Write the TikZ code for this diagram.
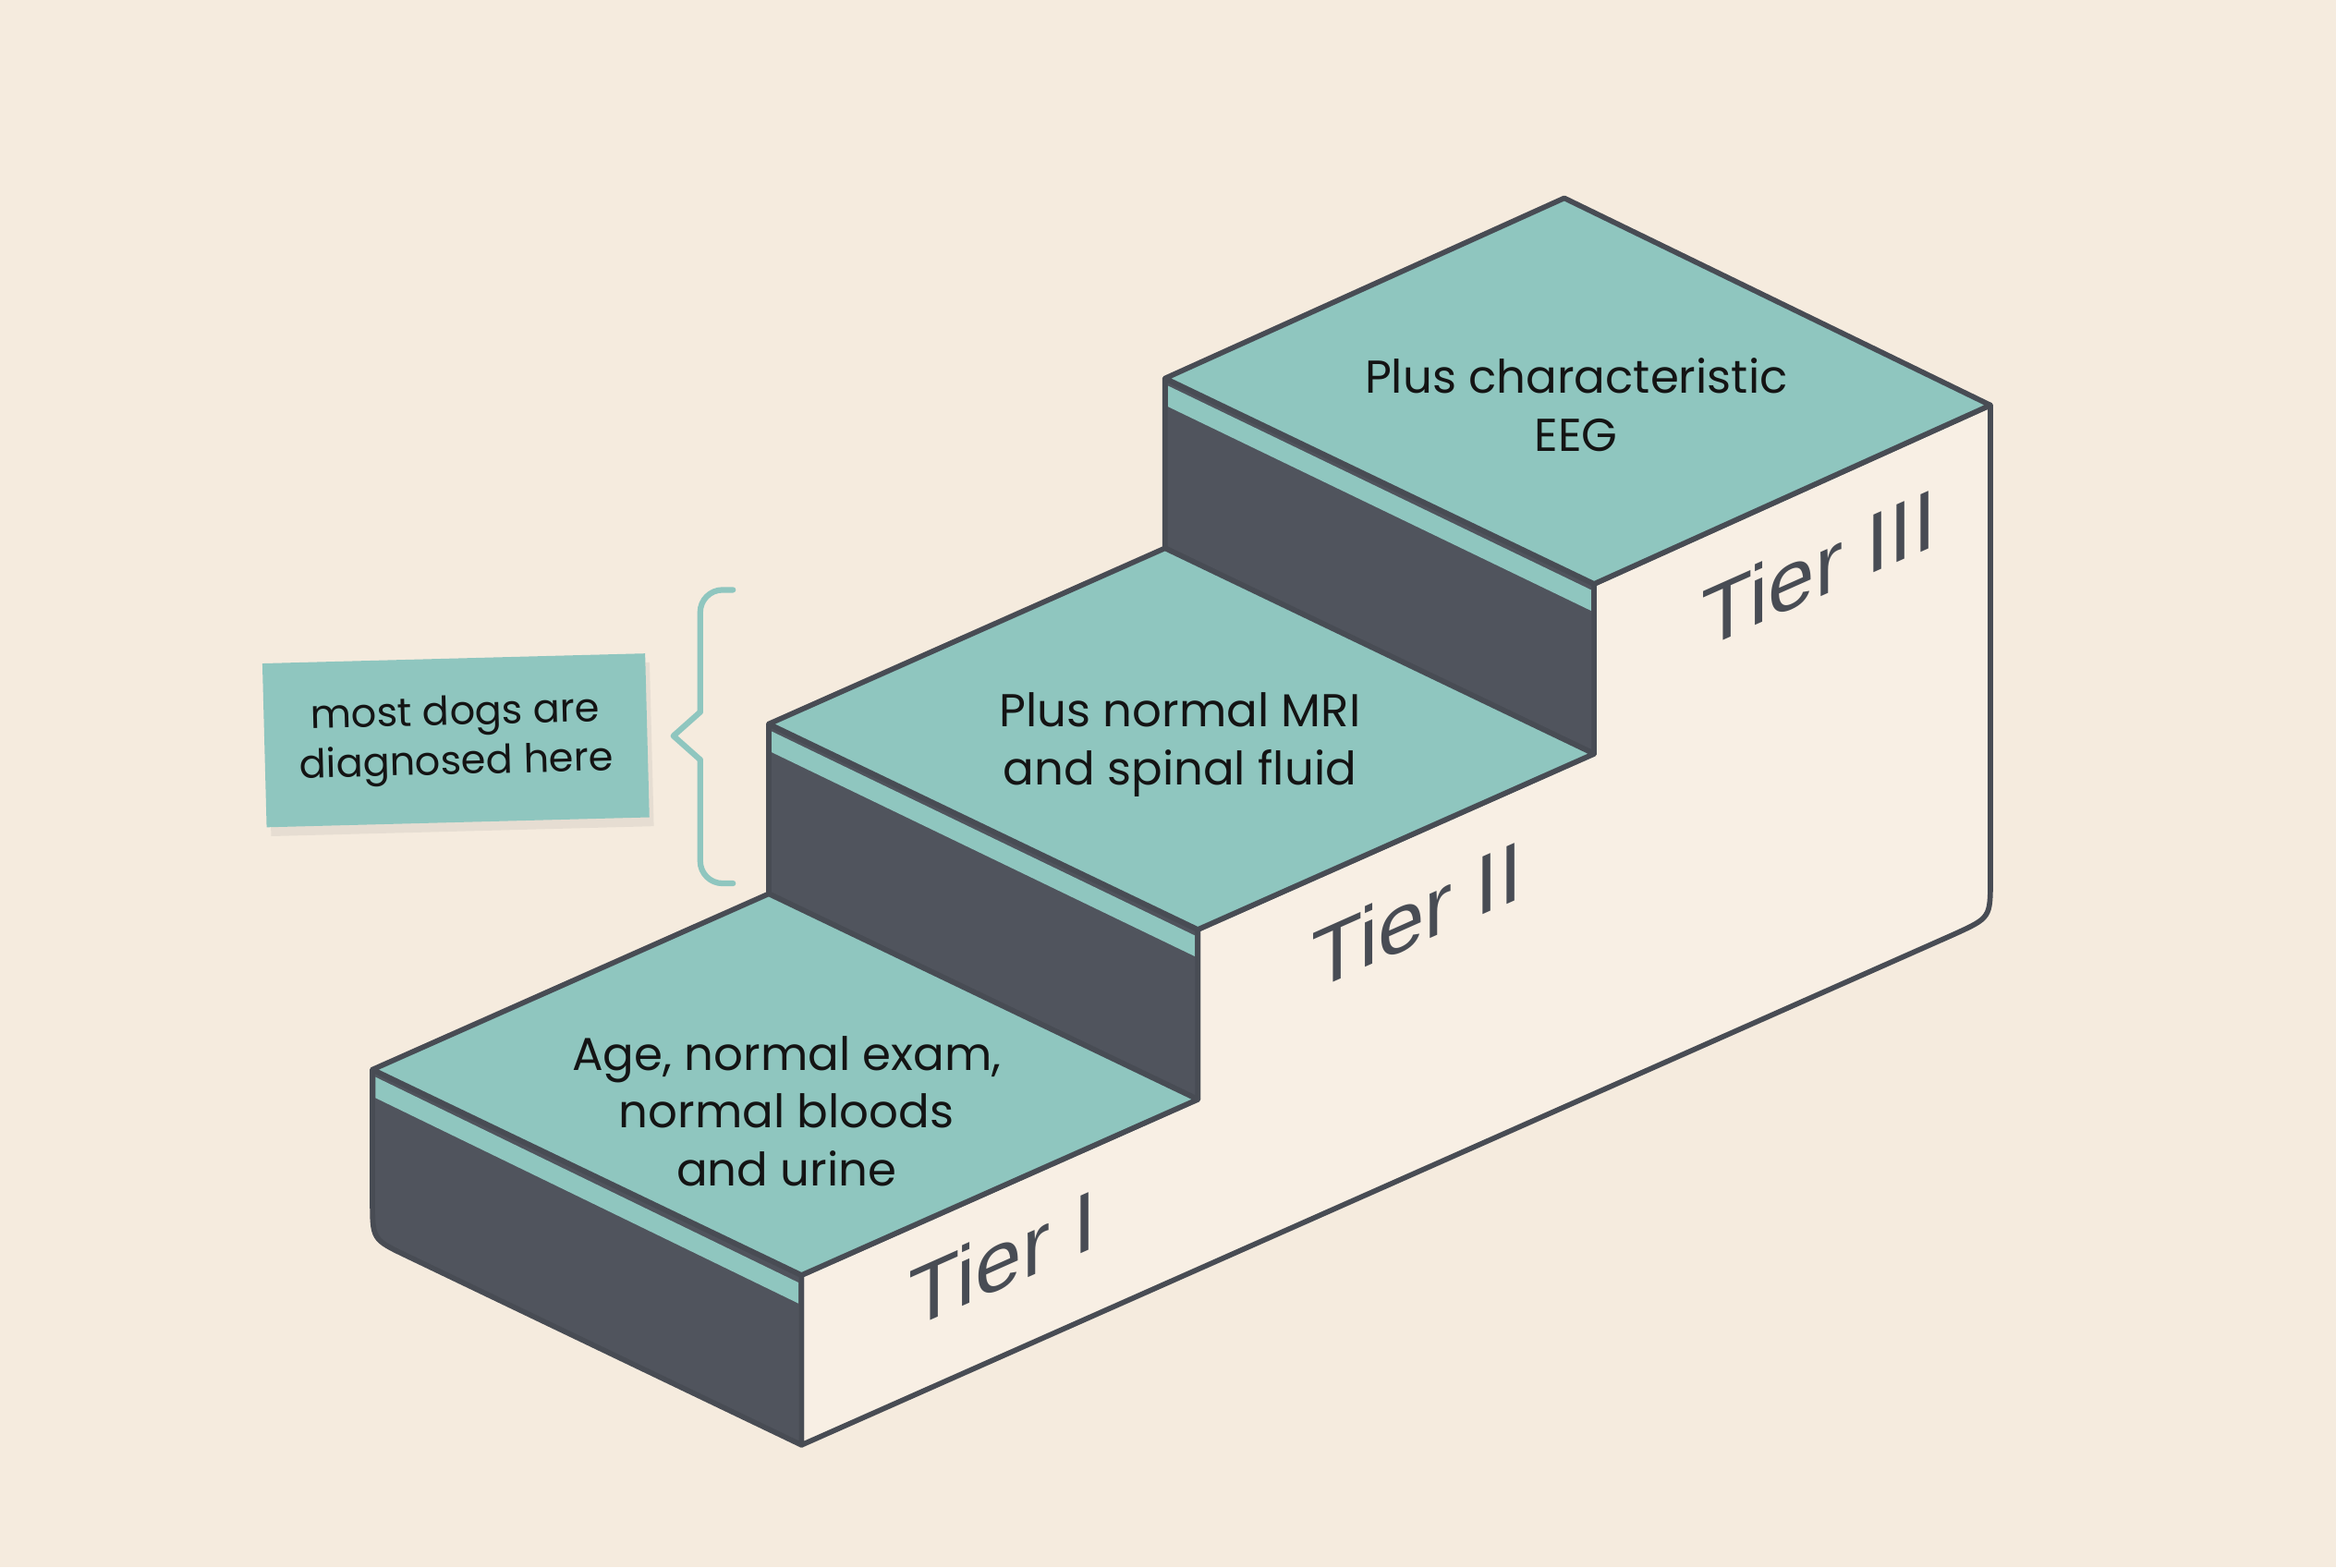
\documentclass[tikz,border=0pt]{standalone}
\usepackage{fontspec}
\setmainfont{Poppins}
\newfontfamily\tierfont{Liberation Sans}
\usepackage{xcolor}
\usepackage{tikz}
\usetikzlibrary{backgrounds,shadows,calc}
\pgfdeclarelayer{edgelayer}
\pgfdeclarelayer{nodelayer}
\pgfsetlayers{background,edgelayer,nodelayer,main}
\definecolor{paper}{RGB}{245,235,222}
\definecolor{facecream}{RGB}{248,239,228}
\definecolor{riser}{RGB}{80,84,93}
\definecolor{edgegrey}{RGB}{72,76,84}
\definecolor{tread}{RGB}{143,198,191}
\tikzstyle{none}=[inner sep=0mm]
\tikzstyle{step text}=[inner sep=0mm, align=center, text=black!92, font={\fontsize{8.8}{11.1}\selectfont}]
\tikzstyle{tier}=[inner sep=0mm, yslant=0.445, text=edgegrey, font={\tierfont\fontsize{16}{16}\selectfont}]
\tikzstyle{note}=[fill=tread, inner sep=0mm, minimum width=2.57cm, minimum height=1.10cm, align=center, text=black!92, font={\fontsize{7.6}{9.4}\selectfont}, drop shadow={opacity=0.12, shadow xshift=0.3mm, shadow yshift=-0.6mm}]
\tikzstyle{tread face}=[fill=tread, draw=edgegrey, line width=1pt, line join=round]
\tikzstyle{riser face}=[fill=riser, draw=edgegrey, line width=1pt, line join=round]
\tikzstyle{side face}=[fill=facecream, draw=edgegrey, line width=1pt, line join=round]
\tikzstyle{band}=[fill=tread]
\tikzstyle{brace}=[draw=tread, line width=1.1pt, line cap=round, line join=round]

\begin{document}
\begin{tikzpicture}
	\begin{pgfonlayer}{background}
		\fill [paper] (0, 0) rectangle (15.68, -10.52);
	\end{pgfonlayer}
	\useasboundingbox (0, 0) rectangle (15.68, -10.52);
	\begin{pgfonlayer}{nodelayer}
		\node [style=none] (0) at (2.50, -7.18) {};
		\node [style=none] (1) at (5.16, -6.00) {};
		\node [style=none] (2) at (5.38, -8.56) {};
		\node [style=none] (3) at (8.04, -7.38) {};
		\node [style=none] (4) at (5.16, -4.86) {};
		\node [style=none] (5) at (7.82, -3.68) {};
		\node [style=none] (6) at (8.04, -6.24) {};
		\node [style=none] (7) at (10.70, -5.06) {};
		\node [style=none] (8) at (7.82, -2.54) {};
		\node [style=none] (9) at (10.50, -1.33) {};
		\node [style=none] (10) at (10.70, -3.92) {};
		\node [style=none] (11) at (13.36, -2.72) {};
		\node [style=none] (12) at (2.50, -8.32) {};
		\node [style=none] (13) at (5.38, -9.70) {};
		\node [style=none] (14) at (13.36, -6.16) {};
		\node [style=none] (15) at (2.52, -7.23) {};
		\node [style=none] (16) at (5.36, -8.61) {};
		\node [style=none] (17) at (5.36, -8.75) {};
		\node [style=none] (18) at (2.52, -7.37) {};
		\node [style=none] (19) at (5.18, -4.91) {};
		\node [style=none] (20) at (8.02, -6.28) {};
		\node [style=none] (21) at (8.02, -6.42) {};
		\node [style=none] (22) at (5.18, -5.05) {};
		\node [style=none] (23) at (7.84, -2.59) {};
		\node [style=none] (24) at (10.68, -3.96) {};
		\node [style=none] (25) at (10.68, -4.10) {};
		\node [style=none] (26) at (7.84, -2.73) {};
		\node [style=none] (27) at (13.36, -5.90) {};
		\node [style=none] (28) at (13.12, -6.27) {};
		\node [style=none] (29) at (2.50, -8.06) {};
		\node [style=none] (30) at (2.73, -8.43) {};
		\node [style=none] (31) at (4.92, -3.96) {};
		\node [style=none] (32) at (4.70, -4.78) {};
		\node [style=none] (33) at (4.52, -4.94) {};
		\node [style=none] (34) at (4.70, -5.10) {};
		\node [style=none] (35) at (4.92, -5.93) {};
		\node [style=step text] (36) at (5.28, -7.46) {Age, normal exam,\\normal bloods\\and urine};
		\node [style=step text] (37) at (7.92, -5.00) {Plus normal MRI\\and spinal fluid};
		\node [style=step text] (38) at (10.58, -2.72) {Plus characteristic\\EEG};
		\node [style=note, rotate=1.5] (39) at (3.06, -4.97) {most dogs are\\diagnosed here};
		\node [style=tier] (40) at (6.73, -8.45) {Tier I};
		\node [style=tier] (41) at (9.51, -6.14) {Tier II};
		\node [style=tier] (42) at (12.21, -3.81) {Tier III};
	\end{pgfonlayer}
	\begin{pgfonlayer}{edgelayer}
		\draw [style=side face] (2.center) -- (3.center) -- (6.center) -- (7.center) -- (10.center) -- (11.center) -- (27.center) .. controls (14.center) .. (28.center) -- (13.center) -- cycle;
		\fill [riser] (0.center) -- (29.center) .. controls (12.center) .. (30.center) -- (13.center) -- (2.center) -- cycle;
		\fill [riser] (4.center) -- (6.center) -- (3.center) -- (1.center) -- cycle;
		\fill [riser] (8.center) -- (10.center) -- (7.center) -- (5.center) -- cycle;
		\fill [style=band] (15.center) -- (16.center) -- (17.center) -- (18.center) -- cycle;
		\fill [style=band] (19.center) -- (20.center) -- (21.center) -- (22.center) -- cycle;
		\fill [style=band] (23.center) -- (24.center) -- (25.center) -- (26.center) -- cycle;
		\draw [style=riser face, fill=none] (0.center) -- (29.center) .. controls (12.center) .. (30.center) -- (13.center) -- (2.center) -- cycle;
		\draw [style=riser face, fill=none] (4.center) -- (6.center) -- (3.center) -- (1.center) -- cycle;
		\draw [style=riser face, fill=none] (8.center) -- (10.center) -- (7.center) -- (5.center) -- cycle;
		\draw [style=tread face] (0.center) -- (1.center) -- (3.center) -- (2.center) -- cycle;
		\draw [style=tread face] (4.center) -- (5.center) -- (7.center) -- (6.center) -- cycle;
		\draw [style=tread face] (8.center) -- (9.center) -- (11.center) -- (10.center) -- cycle;
		\draw [style=brace, rounded corners=1.5mm] (31.center) -| (32.center);
		\draw [style=brace] (32.center) -- (33.center) -- (34.center);
		\draw [style=brace, rounded corners=1.5mm] (34.center) |- (35.center);
	\end{pgfonlayer}
\end{tikzpicture}
\end{document}
